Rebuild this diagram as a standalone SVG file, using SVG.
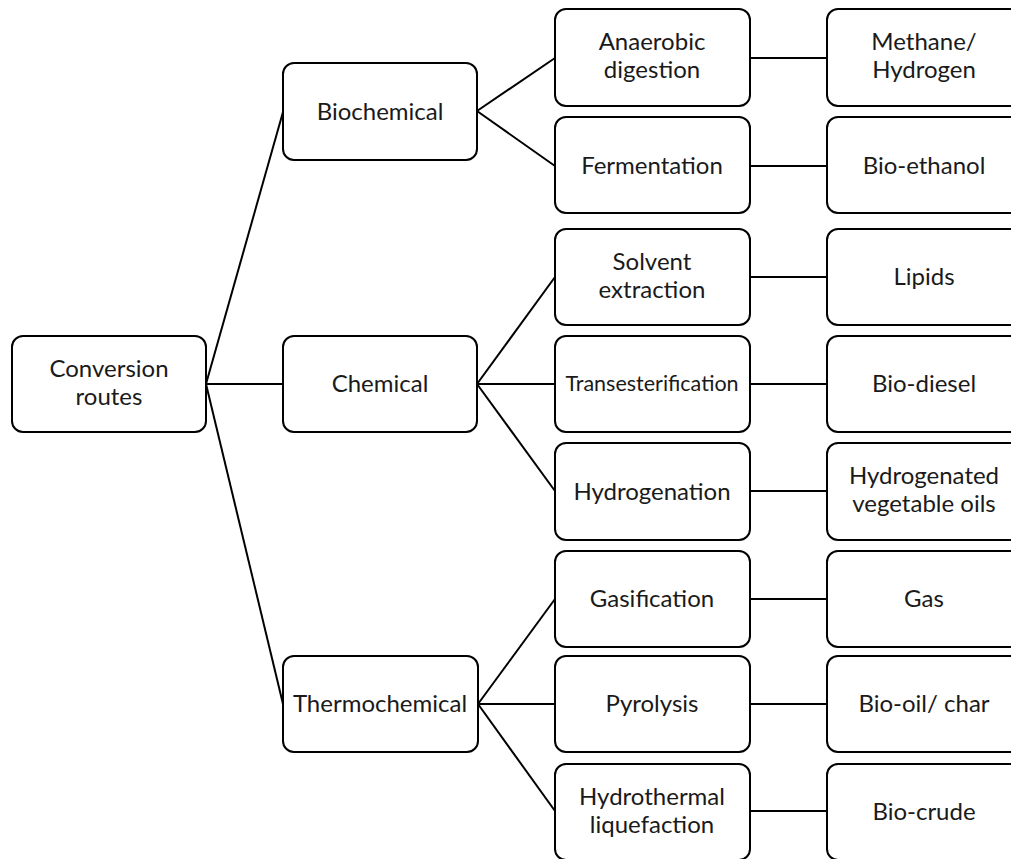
<svg xmlns="http://www.w3.org/2000/svg" width="1011" height="859" viewBox="0 0 1011 859">
  <style>
    .box { fill: #ffffff; stroke: #000000; stroke-width: 2; }
    .lbl { font-family: Lato, "Open Sans", "Liberation Sans", sans-serif; font-size: 24px; fill: #1a1a1a; text-anchor: middle; }
    .small { font-size: 21.5px; }
    .link { stroke: #000000; stroke-width: 2; fill: none; }
  </style>

  <!-- connectors -->
  <g id="connectors">
    <line class="link" x1="206" y1="384" x2="283" y2="112"/>
    <line class="link" x1="206" y1="384" x2="283" y2="384"/>
    <line class="link" x1="206" y1="384" x2="283" y2="704"/>

    <line class="link" x1="477" y1="111" x2="555" y2="58"/>
    <line class="link" x1="477" y1="111" x2="555" y2="166"/>

    <line class="link" x1="477" y1="384" x2="555" y2="277"/>
    <line class="link" x1="477" y1="384" x2="555" y2="384"/>
    <line class="link" x1="477" y1="384" x2="555" y2="491"/>

    <line class="link" x1="478" y1="704" x2="555" y2="599"/>
    <line class="link" x1="478" y1="704" x2="555" y2="704"/>
    <line class="link" x1="478" y1="704" x2="555" y2="811"/>

    <line class="link" x1="750" y1="58" x2="827" y2="58"/>
    <line class="link" x1="750" y1="166" x2="827" y2="166"/>
    <line class="link" x1="750" y1="277" x2="827" y2="277"/>
    <line class="link" x1="750" y1="384" x2="827" y2="384"/>
    <line class="link" x1="750" y1="491" x2="827" y2="491"/>
    <line class="link" x1="750" y1="599" x2="827" y2="599"/>
    <line class="link" x1="750" y1="704" x2="827" y2="704"/>
    <line class="link" x1="750" y1="811" x2="827" y2="811"/>
  </g>

  <!-- root -->
  <g id="conversion-routes">
    <rect class="box" x="12" y="336" width="194" height="96" rx="11"/>
    <text class="lbl" x="109" y="377">Conversion</text>
    <text class="lbl" x="109" y="405">routes</text>
  </g>

  <!-- route types -->
  <g id="biochemical">
    <rect class="box" x="283" y="63" width="194" height="97" rx="11"/>
    <text class="lbl" x="380" y="120">Biochemical</text>
  </g>
  <g id="chemical">
    <rect class="box" x="283" y="336" width="194" height="96" rx="11"/>
    <text class="lbl" x="380" y="392">Chemical</text>
  </g>
  <g id="thermochemical">
    <rect class="box" x="283" y="656" width="195" height="96" rx="11"/>
    <text class="lbl" x="380" y="712">Thermochemical</text>
  </g>

  <!-- processes -->
  <g id="anaerobic-digestion">
    <rect class="box" x="555" y="9" width="195" height="97" rx="11"/>
    <text class="lbl" x="652" y="50">Anaerobic</text>
    <text class="lbl" x="652" y="78">digestion</text>
  </g>
  <g id="fermentation">
    <rect class="box" x="555" y="117" width="195" height="96" rx="11"/>
    <text class="lbl" x="652" y="174">Fermentation</text>
  </g>
  <g id="solvent-extraction">
    <rect class="box" x="555" y="229" width="195" height="96" rx="11"/>
    <text class="lbl" x="652" y="270">Solvent</text>
    <text class="lbl" x="652" y="298">extraction</text>
  </g>
  <g id="transesterification">
    <rect class="box" x="555" y="336" width="195" height="96" rx="11"/>
    <text class="lbl small" x="652" y="391">Transesterification</text>
  </g>
  <g id="hydrogenation">
    <rect class="box" x="555" y="443" width="195" height="97" rx="11"/>
    <text class="lbl" x="652" y="500">Hydrogenation</text>
  </g>
  <g id="gasification">
    <rect class="box" x="555" y="551" width="195" height="96" rx="11"/>
    <text class="lbl" x="652" y="607">Gasification</text>
  </g>
  <g id="pyrolysis">
    <rect class="box" x="555" y="656" width="195" height="96" rx="11"/>
    <text class="lbl" x="652" y="712">Pyrolysis</text>
  </g>
  <g id="hydrothermal-liquefaction">
    <rect class="box" x="555" y="764" width="195" height="96" rx="11"/>
    <text class="lbl" x="652" y="805">Hydrothermal</text>
    <text class="lbl" x="652" y="833">liquefaction</text>
  </g>

  <!-- products -->
  <g id="methane-hydrogen">
    <rect class="box" x="827" y="9" width="195" height="97" rx="11"/>
    <text class="lbl" x="924" y="50">Methane/</text>
    <text class="lbl" x="924" y="78">Hydrogen</text>
  </g>
  <g id="bio-ethanol">
    <rect class="box" x="827" y="117" width="195" height="96" rx="11"/>
    <text class="lbl" x="924" y="174">Bio-ethanol</text>
  </g>
  <g id="lipids">
    <rect class="box" x="827" y="229" width="195" height="96" rx="11"/>
    <text class="lbl" x="924" y="285">Lipids</text>
  </g>
  <g id="bio-diesel">
    <rect class="box" x="827" y="336" width="195" height="96" rx="11"/>
    <text class="lbl" x="924" y="392">Bio-diesel</text>
  </g>
  <g id="hydrogenated-vegetable-oils">
    <rect class="box" x="827" y="443" width="195" height="97" rx="11"/>
    <text class="lbl" x="924" y="484">Hydrogenated</text>
    <text class="lbl" x="924" y="512">vegetable oils</text>
  </g>
  <g id="gas">
    <rect class="box" x="827" y="551" width="195" height="96" rx="11"/>
    <text class="lbl" x="924" y="607">Gas</text>
  </g>
  <g id="bio-oil-char">
    <rect class="box" x="827" y="656" width="195" height="96" rx="11"/>
    <text class="lbl" x="924" y="712">Bio-oil/ char</text>
  </g>
  <g id="bio-crude">
    <rect class="box" x="827" y="764" width="195" height="96" rx="11"/>
    <text class="lbl" x="924" y="820">Bio-crude</text>
  </g>
</svg>
